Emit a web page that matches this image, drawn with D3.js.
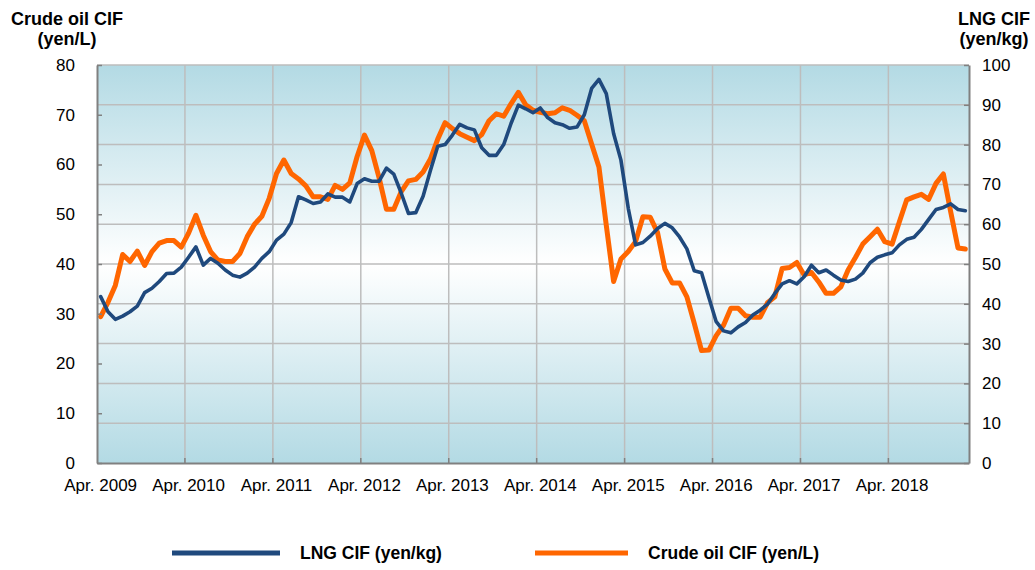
<!DOCTYPE html>
<html>
<head>
<meta charset="utf-8">
<script src="https://cdn.jsdelivr.net/npm/d3@7"></script>
<style>
  html, body { margin: 0; padding: 0; background: #ffffff; }
  svg { display: block; font-family: "Liberation Sans", Arial, sans-serif; }
</style>
</head>
<body>
<svg id="chart" width="1035" height="570"></svg>
<script>
// ---- Data (monthly, Apr. 2009 – Feb. 2019) ----
const startYear = 2009, startMonth = 4, monthCount = 119;
const categories = d3.range(monthCount).map(i => {
  const m = startMonth - 1 + i;
  return (startYear + Math.floor(m / 12)) + "-" + String(m % 12 + 1).padStart(2, "0");
});

// Crude oil CIF (yen/L) – left axis
const crudeCIF = [29.4,32.3,35.7,41.9,40.5,42.6,39.7,42.5,44.2,44.7,
  44.7,43.4,46.2,49.8,45.8,42.5,40.8,40.5,40.5,42.1,
  45.5,48.0,49.6,53.2,58.2,60.9,58.2,57.1,55.7,53.5,
  53.5,53.0,55.8,55.0,56.3,61.6,65.9,62.8,57.3,51.0,
  51.0,54.5,56.7,57.0,58.5,61.1,65.1,68.4,67.2,66.2,
  65.5,64.8,66.0,68.8,70.2,69.7,72.2,74.5,72.0,70.9,
  70.5,70.2,70.4,71.4,70.9,69.9,68.8,64.1,59.5,47.8,
  36.5,41.0,42.5,44.5,49.5,49.4,46.3,39.0,36.2,36.2,
  33.4,28.1,22.6,22.7,25.6,27.7,31.1,31.1,29.6,29.3,
  29.3,32.2,33.4,39.1,39.3,40.3,37.8,38.3,36.4,34.1,
  34.1,35.4,38.8,41.3,44.0,45.5,47.0,44.5,44.0,48.5,
  52.9,53.5,54.0,53.0,56.2,58.1,50.5,43.2,43.0];

// LNG CIF (yen/kg) – right axis
const lngCIF = [41.8,38.0,36.1,36.9,38.0,39.4,42.8,43.9,45.6,47.6,
  47.7,49.2,51.7,54.3,49.7,51.4,50.2,48.5,47.2,46.7,
  47.7,49.2,51.4,53.1,56.0,57.5,60.4,66.9,66.1,65.2,
  65.6,67.6,66.8,66.8,65.6,70.2,71.4,70.8,70.8,74.1,
  72.6,67.9,62.7,62.9,67.0,73.5,79.6,80.0,82.4,85.1,
  84.2,83.7,79.2,77.3,77.3,80.0,85.3,89.9,89.0,88.0,
  89.2,86.8,85.5,85.0,84.1,84.4,87.5,94.1,96.4,92.8,
  82.8,76.1,64.0,54.8,55.4,57.0,58.9,60.2,59.1,56.8,
  53.8,48.3,47.8,41.6,35.5,33.2,32.7,34.2,35.3,37.2,
  38.4,39.9,42.6,45.0,45.8,45.0,46.8,49.7,47.8,48.5,
  47.2,46.0,45.6,46.2,47.7,50.3,51.7,52.3,52.8,54.8,
  56.2,56.7,58.7,61.2,63.7,64.2,65.1,63.7,63.4];

const xTickCats   = ["2009-04","2010-04","2011-04","2012-04","2013-04","2014-04","2015-04","2016-04","2017-04","2018-04"];
const xTickLabels = ["Apr. 2009","Apr. 2010","Apr. 2011","Apr. 2012","Apr. 2013","Apr. 2014","Apr. 2015","Apr. 2016","Apr. 2017","Apr. 2018"];
const leftTicks  = [0,10,20,30,40,50,60,70,80];
const rightTicks = [0,10,20,30,40,50,60,70,80,90,100];

const seriesNames = ["LNG CIF (yen/kg)", "Crude oil CIF (yen/L)"];
const leftTitle  = ["Crude oil CIF", "(yen/L)"];
const rightTitle = ["LNG CIF", "(yen/kg)"];

// ---- Layout ----
const L = 97, R = 969, T = 65, B = 463;
const BLUE = "#1f497d", ORANGE = "#ff6600";
const svg = d3.select("#chart");

const x = d3.scaleBand().domain(categories).range([L, R]).padding(0);
const yL = d3.scaleLinear().domain([0, 80]).range([B, T]);
const yR = d3.scaleLinear().domain([0, 100]).range([B, T]);
const cx = c => x(c) + x.bandwidth() / 2;

// Background gradient
const defs = svg.append("defs");
const grad = defs.append("linearGradient").attr("id", "bg")
  .attr("x1", 0).attr("y1", 0).attr("x2", 0).attr("y2", 1);
grad.append("stop").attr("offset", "0%").attr("stop-color", "#b3dae4");
grad.append("stop").attr("offset", "50%").attr("stop-color", "#ffffff");
grad.append("stop").attr("offset", "100%").attr("stop-color", "#b3dae4");
svg.append("rect").attr("x", L).attr("y", T).attr("width", R - L).attr("height", B - T)
  .attr("fill", "url(#bg)");

// Gridlines
const grid = svg.append("g").attr("stroke", "#bdbdbd").attr("stroke-width", 1.5);
grid.selectAll("line.h").data(rightTicks.filter(v => v > 0)).join("line")
  .attr("x1", L).attr("x2", R).attr("y1", d => yR(d)).attr("y2", d => yR(d));
grid.selectAll("line.v").data(xTickCats.slice(1)).join("line")
  .attr("x1", d => x(d)).attr("x2", d => x(d)).attr("y1", T).attr("y2", B);

// Series lines
const line = (vals, y) => d3.line()
  .x((d, i) => cx(categories[i]))
  .y(d => y(d))(vals);

svg.append("path").attr("d", line(crudeCIF, yL))
  .attr("fill", "none").attr("stroke", ORANGE).attr("stroke-width", 5)
  .attr("stroke-linejoin", "round").attr("stroke-linecap", "round");
svg.append("path").attr("d", line(lngCIF, yR))
  .attr("fill", "none").attr("stroke", BLUE).attr("stroke-width", 3.6)
  .attr("stroke-linejoin", "round").attr("stroke-linecap", "round");

// Axes
const styleAxis = g => {
  g.select(".domain").attr("stroke", "#808080").attr("stroke-width", 2);
  g.selectAll(".tick line").attr("stroke", "#808080").attr("stroke-width", 1.5);
  g.selectAll(".tick text").attr("fill", "#000").attr("font-size", 17)
    .attr("font-family", "'Liberation Sans', Arial, sans-serif");
};

svg.append("g").attr("transform", `translate(${L},0)`)
  .call(d3.axisLeft(yL).tickValues(leftTicks).tickSize(-5).tickSizeOuter(0).tickPadding(22))
  .call(styleAxis);

svg.append("g").attr("transform", `translate(${R},0)`)
  .call(d3.axisRight(yR).tickValues(rightTicks).tickSize(-5).tickSizeOuter(0).tickPadding(13))
  .call(styleAxis);

svg.append("g").attr("transform", `translate(0,${B})`)
  .call(d3.axisBottom(x).tickValues(xTickCats)
    .tickFormat(d => xTickLabels[xTickCats.indexOf(d)])
    .tickSize(0).tickSizeOuter(0).tickPadding(16))
  .call(styleAxis);

// small bottom tick marks at year boundaries
svg.append("g").selectAll("line").data(xTickCats.slice(1)).join("line")
  .attr("x1", d => x(d)).attr("x2", d => x(d)).attr("y1", B).attr("y2", B - 5)
  .attr("stroke", "#808080").attr("stroke-width", 1.5);

// Axis titles
const titleStyle = t => t.attr("font-size", 18).attr("font-weight", "bold").attr("fill", "#000")
  .attr("text-anchor", "middle");
svg.append("text").attr("x", 67).attr("y", 25).text(leftTitle[0]).call(titleStyle);
svg.append("text").attr("x", 67).attr("y", 45).text(leftTitle[1]).call(titleStyle);
svg.append("text").attr("x", 994).attr("y", 25).text(rightTitle[0]).call(titleStyle);
svg.append("text").attr("x", 994).attr("y", 45).text(rightTitle[1]).call(titleStyle);

// Legend
const legend = [
  { name: seriesNames[0], color: BLUE,   x1: 172, x2: 280, tx: 300 },
  { name: seriesNames[1], color: ORANGE, x1: 535, x2: 628, tx: 648 }
];
const lg = svg.append("g");
lg.selectAll("line").data(legend).join("line")
  .attr("x1", d => d.x1).attr("x2", d => d.x2).attr("y1", 553).attr("y2", 553)
  .attr("stroke", d => d.color).attr("stroke-width", 5);
lg.selectAll("text").data(legend).join("text")
  .attr("x", d => d.tx).attr("y", 559).text(d => d.name)
  .attr("font-size", 17.5).attr("font-weight", "bold").attr("fill", "#000");
</script>
</body>
</html>
